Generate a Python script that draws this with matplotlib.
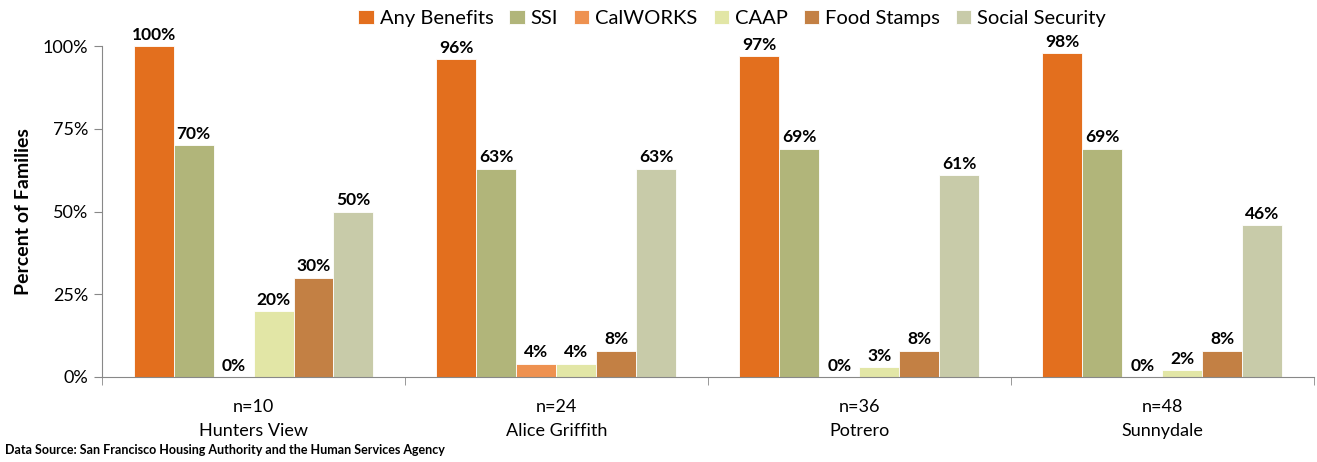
import numpy as np
import matplotlib.pyplot as plt
from matplotlib.ticker import PercentFormatter, FixedLocator

plt.rcParams['font.family'] = ['Lato', 'DejaVu Sans']

# data
sites = ["Hunters View", "Alice Griffith", "Potrero", "Sunnydale"]
n_labels = ["n=10", "n=24", "n=36", "n=48"]
series = ["Any Benefits", "SSI", "CalWORKS", "CAAP", "Food Stamps", "Social Security"]
any_benefits = [100, 96, 97, 98]
ssi = [70, 63, 69, 69]
calworks = [0, 4, 0, 0]
caap = [20, 4, 3, 2]
food_stamps = [30, 8, 8, 8]
social_security = [50, 63, 61, 46]
values = [any_benefits, ssi, calworks, caap, food_stamps, social_security]
colors = ['#E36F1E', '#B1B57A', '#EE9150', '#E2E6A6', '#C38044', '#C8CBA9']

fig = plt.figure(figsize=(13.17, 4.62), dpi=100)
ax = fig.add_axes([0.0775, 0.184, 0.92, 0.716])

x = np.arange(len(sites))
w = 0.132
for i, (name, vals, c) in enumerate(zip(series, values, colors)):
    pos = x + (i - 2.5) * w
    ax.bar(pos, vals, width=w, color=c, label=name, edgecolor='white', linewidth=0.6)
    for px, v in zip(pos, vals):
        ax.text(px, v + 1.0, f"{v}%", ha='center', va='bottom',
                fontsize=12.5, fontweight='bold', color='black')

ax.set_xlim(-0.5, len(sites) - 0.5)
ax.set_ylim(0, 100)
ax.yaxis.set_major_locator(FixedLocator([0, 25, 50, 75, 100]))
ax.yaxis.set_major_formatter(PercentFormatter(decimals=0))
ax.set_xticks(x)
ax.set_xticklabels([f"{n}\n{s}" for n, s in zip(n_labels, sites)], fontsize=13,
                   linespacing=1.6)
ax.set_xticks(np.arange(-0.5, len(sites) + 0.5, 1), minor=True)
ax.tick_params(axis='x', which='major', length=0, pad=16)
ax.tick_params(axis='x', which='minor', length=6, color='#888888', direction='out')
ax.tick_params(axis='y', labelsize=13, length=6, color='#888888', pad=4)
ax.set_ylabel("Percent of Families", fontsize=14, fontweight='bold', labelpad=8)

for s in ['top', 'right']:
    ax.spines[s].set_visible(False)
for s in ['left', 'bottom']:
    ax.spines[s].set_color('#888888')

ax.legend(loc='upper center', bbox_to_anchor=(0.52, 1.165), ncol=6, frameon=False,
          fontsize=14.5, handlelength=0.75, handleheight=0.75, handletextpad=0.3,
          columnspacing=0.8)

fig.text(0.004, 0.012, "Data Source: San Francisco Housing Authority and the Human Services Agency",
         fontsize=9, fontweight='bold', ha='left', va='bottom')

fig.savefig("out.png", dpi=100)
